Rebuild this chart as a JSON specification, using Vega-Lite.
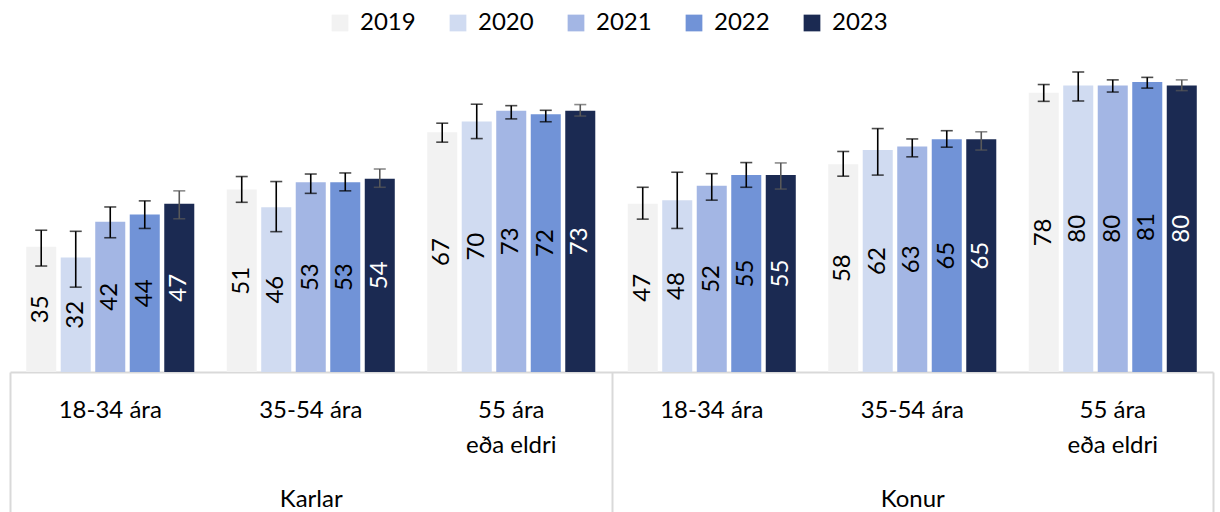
{
  "$schema": "https://vega.github.io/schema/vega-lite/v6.json",
  "width": 1203,
  "height": 358,
  "padding": {"left": 10, "top": 14, "right": 7, "bottom": 140},
  "autosize": {"type": "none"},
  "background": "white",
  "config": {"font": "Lato", "view": {"stroke": null}},
  "data": {"values": [
    {"kyn": "Karlar", "hopur": "Karlar 18-34 ára", "ar": "2019", "value": 35, "lo": 29.6, "hi": 39.6},
    {"kyn": "Karlar", "hopur": "Karlar 18-34 ára", "ar": "2020", "value": 32, "lo": 23.7, "hi": 39.3},
    {"kyn": "Karlar", "hopur": "Karlar 18-34 ára", "ar": "2021", "value": 42, "lo": 37.5, "hi": 46.1},
    {"kyn": "Karlar", "hopur": "Karlar 18-34 ára", "ar": "2022", "value": 44, "lo": 40.1, "hi": 47.8},
    {"kyn": "Karlar", "hopur": "Karlar 18-34 ára", "ar": "2023", "value": 47, "lo": 42.8, "hi": 50.6},
    {"kyn": "Karlar", "hopur": "Karlar 35-54 ára", "ar": "2019", "value": 51, "lo": 47.4, "hi": 54.6},
    {"kyn": "Karlar", "hopur": "Karlar 35-54 ára", "ar": "2020", "value": 46, "lo": 39.2, "hi": 53.2},
    {"kyn": "Karlar", "hopur": "Karlar 35-54 ára", "ar": "2021", "value": 53, "lo": 49.9, "hi": 55.3},
    {"kyn": "Karlar", "hopur": "Karlar 35-54 ára", "ar": "2022", "value": 53, "lo": 50.6, "hi": 55.6},
    {"kyn": "Karlar", "hopur": "Karlar 35-54 ára", "ar": "2023", "value": 54, "lo": 51.6, "hi": 56.7},
    {"kyn": "Karlar", "hopur": "Karlar 55 ára eða eldri", "ar": "2019", "value": 67, "lo": 64.2, "hi": 69.5},
    {"kyn": "Karlar", "hopur": "Karlar 55 ára eða eldri", "ar": "2020", "value": 70, "lo": 65.2, "hi": 74.8},
    {"kyn": "Karlar", "hopur": "Karlar 55 ára eða eldri", "ar": "2021", "value": 73, "lo": 70.7, "hi": 74.4},
    {"kyn": "Karlar", "hopur": "Karlar 55 ára eða eldri", "ar": "2022", "value": 72, "lo": 69.9, "hi": 73.1},
    {"kyn": "Karlar", "hopur": "Karlar 55 ára eða eldri", "ar": "2023", "value": 73, "lo": 71.5, "hi": 74.7},
    {"kyn": "Konur", "hopur": "Konur 18-34 ára", "ar": "2019", "value": 47, "lo": 42.7, "hi": 51.6},
    {"kyn": "Konur", "hopur": "Konur 18-34 ára", "ar": "2020", "value": 48, "lo": 40.1, "hi": 55.8},
    {"kyn": "Konur", "hopur": "Konur 18-34 ára", "ar": "2021", "value": 52, "lo": 48.0, "hi": 55.4},
    {"kyn": "Konur", "hopur": "Konur 18-34 ára", "ar": "2022", "value": 55, "lo": 51.6, "hi": 58.5},
    {"kyn": "Konur", "hopur": "Konur 18-34 ára", "ar": "2023", "value": 55, "lo": 51.1, "hi": 58.4},
    {"kyn": "Konur", "hopur": "Konur 35-54 ára", "ar": "2019", "value": 58, "lo": 54.7, "hi": 61.6},
    {"kyn": "Konur", "hopur": "Konur 35-54 ára", "ar": "2020", "value": 62, "lo": 55.0, "hi": 68.0},
    {"kyn": "Konur", "hopur": "Konur 35-54 ára", "ar": "2021", "value": 63, "lo": 60.1, "hi": 65.1},
    {"kyn": "Konur", "hopur": "Konur 35-54 ára", "ar": "2022", "value": 65, "lo": 62.8, "hi": 67.4},
    {"kyn": "Konur", "hopur": "Konur 35-54 ára", "ar": "2023", "value": 65, "lo": 62.0, "hi": 67.1},
    {"kyn": "Konur", "hopur": "Konur 55 ára eða eldri", "ar": "2019", "value": 78, "lo": 75.6, "hi": 80.3},
    {"kyn": "Konur", "hopur": "Konur 55 ára eða eldri", "ar": "2020", "value": 80, "lo": 75.7, "hi": 83.8},
    {"kyn": "Konur", "hopur": "Konur 55 ára eða eldri", "ar": "2021", "value": 80, "lo": 78.2, "hi": 81.6},
    {"kyn": "Konur", "hopur": "Konur 55 ára eða eldri", "ar": "2022", "value": 81, "lo": 79.3, "hi": 82.3},
    {"kyn": "Konur", "hopur": "Konur 55 ára eða eldri", "ar": "2023", "value": 80, "lo": 78.6, "hi": 81.6}
  ]},
  "resolve": {"scale": {"x": "independent", "y": "independent"}, "axis": {"x": "independent", "y": "independent"}},
  "layer": [
    {
      "encoding": {
        "x": {"field": "hopur", "type": "nominal", "sort": null, "title": null,
              "scale": {"paddingInner": 0, "paddingOuter": 0},
              "axis": {"orient": "bottom", "domain": false, "ticks": false, "labelPadding": 26,
                       "labelFontSize": 24, "labelColor": "black", "labelLineHeight": 35,
                       "labelAngle": 0, "labelOverlap": false, "labelFlush": false, "labelLimit": 300,
                       "labelExpr": "split(replace(replace(replace(datum.label, 'Karlar ', ''), 'Konur ', ''), ' eða', '|eða'), '|')"}},
        "xOffset": {"field": "ar", "type": "nominal", "scale": {"paddingInner": 0.13, "paddingOuter": 0.47}}
      },
      "layer": [
        {
          "mark": {"type": "bar"},
          "encoding": {
            "y": {"field": "value", "type": "quantitative", "scale": {"domain": [0, 100]}, "axis": null},
            "color": {"field": "ar", "type": "nominal", "title": null,
                      "scale": {"domain": ["2019", "2020", "2021", "2022", "2023"],
                                "range": ["#f2f2f2", "#d0dbf1", "#a3b6e4", "#7193d7", "#1b2a52"]},
                      "legend": {"orient": "none", "legendX": 318, "legendY": -3, "direction": "horizontal",
                                 "symbolType": "square", "symbolSize": 280, "symbolStrokeWidth": 0,
                                 "labelFontSize": 24, "labelColor": "black", "labelOffset": 8,
                                 "columnPadding": 30, "padding": 0}}
          }
        },
        {
          "mark": {"type": "rule", "strokeWidth": 1.6},
          "encoding": {
            "y": {"field": "lo", "type": "quantitative", "scale": {"domain": [0, 100]}},
            "y2": {"field": "hi"},
            "color": {"condition": {"test": "datum.ar === '2023'", "value": "#595959"}, "value": "#000000"}
          }
        },
        {
          "mark": {"type": "tick", "size": 12, "thickness": 1.6},
          "encoding": {
            "y": {"field": "lo", "type": "quantitative", "scale": {"domain": [0, 100]}},
            "color": {"condition": {"test": "datum.ar === '2023'", "value": "#595959"}, "value": "#000000"}
          }
        },
        {
          "mark": {"type": "tick", "size": 12, "thickness": 1.6},
          "encoding": {
            "y": {"field": "hi", "type": "quantitative", "scale": {"domain": [0, 100]}},
            "color": {"condition": {"test": "datum.ar === '2023'", "value": "#595959"}, "value": "#000000"}
          }
        }
      ]
    },
    {
      "mark": {"type": "text", "angle": -90, "align": "center", "baseline": "middle", "fontSize": 24},
      "encoding": {
        "x": {"field": "hopur", "type": "nominal", "sort": null, "scale": {"paddingInner": 0, "paddingOuter": 0}, "axis": null},
        "xOffset": {"field": "ar", "type": "nominal", "scale": {"paddingInner": 0.13, "paddingOuter": 0.47}},
        "y": {"field": "value", "type": "quantitative", "scale": {"domain": [0, 200]}, "axis": null},
        "text": {"field": "value", "type": "quantitative"},
        "color": {"condition": {"test": "datum.ar === '2023'", "value": "#ffffff"}, "value": "#000000"}
      }
    },
    {
      "mark": {"type": "bar", "opacity": 0},
      "encoding": {
        "x": {"field": "kyn", "type": "nominal", "title": null,
              "scale": {"paddingInner": 0, "paddingOuter": 0},
              "axis": {"orient": "bottom", "domain": true, "domainColor": "#d9d9d9", "domainWidth": 2,
                       "ticks": true, "tickBand": "extent", "tickSize": 140, "tickColor": "#d9d9d9", "tickWidth": 2,
                       "labelPadding": -25, "labelFontSize": 24, "labelColor": "black", "labelAngle": 0,
                       "labelFlush": false}}
      }
    }
  ]
}
